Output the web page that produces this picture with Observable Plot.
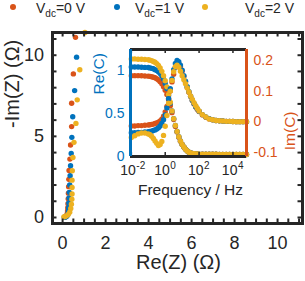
<!DOCTYPE html>
<html><head><meta charset="utf-8">
<script src="https://cdn.jsdelivr.net/npm/d3@7"></script>
<script src="https://cdn.jsdelivr.net/npm/@observablehq/plot@0.6"></script>
<style>
html,body{margin:0;padding:0;background:#fff;}
#wrap{position:relative;width:305px;height:281px;overflow:hidden;font-family:"Liberation Sans",Arial,Helvetica,sans-serif;}
#wrap svg{position:absolute;left:0;top:0;}
.ldot{position:absolute;width:6px;height:6px;border-radius:50%;}
.ltxt{position:absolute;font-size:14px;line-height:14px;color:#262626;white-space:nowrap;}
.ltxt sub{font-size:10px;vertical-align:-4px;line-height:0;}
</style></head>
<body><div id="wrap"></div>
<script>
const blue = "#0072BD", orange = "#D95319", yellow = "#EDB120", ink = "#262626";
const FONT = '"Liberation Sans", Arial, Helvetica, sans-serif';

// legend
const seriesLabels = ["0 V", "1 V", "2 V"];
const seriesColors = [orange, blue, yellow];

// Nyquist data: Re(Z) and -Im(Z) in ohm
const reZ0 = [0.60,0.50,0.42,0.42,0.37,0.34,0.30,0.29,0.28,0.27,0.26,0.25,0.24,0.23,0.22,0.20,0.17,0.13,0.10];
const imZ0 = [11.1,8.85,7.04,5.6,4.47,3.6,2.9,2.35,1.9,1.5,1.15,0.85,0.6,0.4,0.25,0.14,0.08,0.05,0.03];
const reZ1 = [0.65,0.56,0.47,0.43,0.40,0.37,0.35,0.33,0.31,0.30,0.29,0.28,0.27,0.25,0.21,0.16,0.12,0.08];
const imZ1 = [9.88,7.82,6.21,4.94,3.95,3.19,2.57,2.0,1.55,1.2,0.9,0.62,0.4,0.22,0.1,0.05,0.03,0.02];
const reZ2 = [1.04,0.80,0.68,0.62,0.53,0.48,0.45,0.44,0.44,0.44,0.43,0.41,0.38,0.33,0.26,0.18,0.11,0.06];
const imZ2 = [11.4,9.1,7.25,5.8,4.63,3.70,2.88,2.3,1.85,1.45,1.12,0.82,0.55,0.33,0.18,0.1,0.06,0.04];

// Inset: frequency (Hz), Re(C), Im(C)
const freq = [0.01,0.0158,0.0251,0.0398,0.0631,
  0.1,0.126,0.158,0.2,0.251,0.316,0.398,0.501,0.631,0.794,
  1,1.26,1.58,2,2.51,3.16,3.98,5.01,6.31,7.94,
  10,12.6,15.8,20,25.1,31.6,39.8,50.1,63.1,79.4,
  100,
  158,251,398,631,1000,1585,2512,3981,6310,10000,15849,25119,39811,63096];
const reC0 = [0.94,0.94,0.94,0.938,0.936,
  0.934,0.932,0.928,0.922,0.915,0.905,0.89,0.87,0.845,0.81,
  0.77,0.72,0.66,0.59,0.51,0.43,0.35,0.285,0.225,0.178,
  0.14,0.11,0.085,0.065,0.05,0.042,0.036,0.032,0.03,0.029,
  0.028,
  0.027,0.027,0.026,0.026,0.026,0.025,0.025,0.025,0.025,0.025,0.024,0.024,0.024,0.024];
const reC1 = [1.04,1.04,1.04,1.038,1.036,
  1.034,1.03,1.025,1.02,1.01,1.0,0.985,0.965,0.935,0.9,
  0.85,0.79,0.71,0.62,0.53,0.44,0.36,0.29,0.23,0.18,
  0.14,0.11,0.085,0.065,0.05,0.042,0.036,0.032,0.03,0.029,
  0.028,
  0.027,0.027,0.026,0.026,0.026,0.025,0.025,0.025,0.025,0.025,0.024,0.024,0.024,0.024];
const reC2 = [1.135,1.135,1.13,1.13,1.128,
  1.125,1.12,1.115,1.105,1.095,1.08,1.06,1.03,0.99,0.94,
  0.88,0.81,0.72,0.63,0.53,0.44,0.36,0.29,0.23,0.18,
  0.14,0.11,0.085,0.065,0.05,0.042,0.036,0.032,0.03,0.029,
  0.028,
  0.027,0.027,0.026,0.026,0.026,0.025,0.025,0.025,0.025,0.025,0.024,0.024,0.024,0.024];
const imC0 = [-0.014,-0.014,-0.013,-0.013,-0.012,
  -0.011,-0.01,-0.009,-0.008,-0.006,-0.004,-0.002,0.002,0.008,0.018,
  0.032,0.05,0.075,0.10,0.13,0.155,0.178,0.19,0.19,0.18,
  0.165,0.148,0.13,0.112,0.096,0.082,0.069,0.058,0.048,0.04,
  0.033,
  0.022,0.014,0.009,0.006,0.004,0.003,0.002,0.001,0.001,0.0005,0,0,0,0];
const imC1 = [-0.036,-0.036,-0.035,-0.035,-0.034,
  -0.033,-0.032,-0.031,-0.029,-0.027,-0.024,-0.02,-0.014,-0.006,0.006,
  0.022,0.045,0.075,0.108,0.14,0.17,0.19,0.2,0.196,0.185,
  0.168,0.15,0.132,0.114,0.098,0.083,0.07,0.059,0.049,0.041,
  0.034,
  0.023,0.015,0.01,0.006,0.004,0.003,0.002,0.001,0.001,0.0005,0,0,0,0];
const imC2 = [-0.052,-0.046,-0.04,-0.037,-0.037,
  -0.04,-0.043,-0.048,-0.055,-0.063,-0.071,-0.078,-0.075,-0.065,-0.045,
  -0.015,0.02,0.06,0.1,0.135,0.163,0.18,0.185,0.178,0.165,
  0.15,0.137,0.124,0.11,0.097,0.084,0.073,0.062,0.052,0.043,
  0.035,
  0.023,0.015,0.009,0.006,0.004,0.003,0.002,0.001,0.001,0.0005,0,0,0,0];

// ticks
const mainXTicks = [0,2,4,6,8,10];
const mainYTicks = [0,5,10];
const mainXMinor = [0,0.5,1,1.5,2,2.5,3,3.5,4,4.5,5,5.5,6,6.5,7,7.5,8,8.5,9,9.5,10,10.5,11];
const mainYMinor = [0,1,2,3,4,5,6,7,8,9,10,11];
const insetXTicks = [0.01,1,100,10000];
const insetXExp = ["-2","0","2","4"];
const insetReTicks = [0,0.5,1];
const insetImTicks = [-0.1,0,0.1,0.2];

const wrap = document.getElementById("wrap");

// ---------- main plot ----------
const M = {l:52, r:3, t:32, b:58};
const W = 305, H = 281;
const pH = H - M.t - M.b, pW = W - M.l - M.r;
const TL = 4.5;
const nyq = [[reZ0, imZ0], [reZ1, imZ1], [reZ2, imZ2]];
const main = Plot.plot({
  width: W, height: H,
  marginLeft: M.l, marginRight: M.r, marginTop: M.t, marginBottom: M.b,
  style: {fontFamily: FONT, background: "transparent", color: ink, overflow: "visible"},
  x: {domain: [-0.47, 11.16]},
  y: {domain: [-0.37, 11.4]},
  marks: [
    ...nyq.map(([rx, iy], i) => Plot.dot(iy, {x: rx, y: iy, r: 2.7, fill: seriesColors[i], stroke: null})),
    Plot.tickX(mainXMinor, {x: d => d, insetTop: pH - TL, stroke: ink, strokeWidth: 2}),
    Plot.tickX(mainXMinor, {x: d => d, insetBottom: pH - TL, stroke: ink, strokeWidth: 2}),
    Plot.tickY(mainYMinor, {y: d => d, insetRight: pW - TL, stroke: ink, strokeWidth: 2}),
    Plot.tickY(mainYMinor, {y: d => d, insetLeft: pW - TL, stroke: ink, strokeWidth: 2}),
    Plot.frame({stroke: ink, strokeWidth: 3}),
    Plot.axisX(mainXTicks, {tickSize: 0, tickPadding: 12.5, fontSize: 18, label: null, fill: ink}),
    Plot.axisY(mainYTicks, {tickSize: 0, tickPadding: 8.5, fontSize: 18, label: null, fill: ink}),
    Plot.text(["Re(Z) (Ω)"], {frameAnchor: "bottom", dx: 1, dy: 45.5, fontSize: 20, fill: ink}),
    Plot.text(["-Im(Z) (Ω)"], {frameAnchor: "left", dx: -39.5, dy: 0, rotate: -90, fontSize: 20, fill: ink})
  ]
});
wrap.appendChild(main);

// ---------- inset ----------
const I = {l:130, r:59, t:49, b:125};
const ipH = H - I.t - I.b, ipW = W - I.l - I.r;
const xDom = [Math.pow(10, -2.05), Math.pow(10, 4.8)];
const reDom = [0, 1.244];
const imDom = [-0.114, 0.236];
const reSets = [reC0, reC1, reC2];
const imSets = [imC0, imC1, imC2];

const insetRe = Plot.plot({
  width: W, height: H,
  marginLeft: I.l, marginRight: I.r, marginTop: I.t, marginBottom: I.b,
  style: {fontFamily: FONT, background: "transparent", color: ink, overflow: "visible"},
  x: {type: "log", domain: xDom, axis: null},
  y: {domain: reDom},
  marks: [
    Plot.frame({fill: "white", stroke: "none"}),
    ...reSets.map((v, i) => Plot.dot(v, {x: freq, y: v, r: 2.7, fill: seriesColors[i], stroke: null})),
    Plot.axisY(insetReTicks, {tickSize: 0, tickPadding: 6, fontSize: 14, fill: blue, label: null, tickFormat: d => String(d)}),
    Plot.text(insetXTicks, {x: d => d, frameAnchor: "bottom", text: () => "10", textAnchor: "end", dx: 4.5, dy: 18.5, fontSize: 14, fill: ink}),
    Plot.text(insetXTicks, {x: d => d, frameAnchor: "bottom", text: insetXExp, textAnchor: "start", dx: 5, dy: 12.5, fontSize: 10, fill: ink}),
    Plot.text(["Frequency / Hz"], {frameAnchor: "bottom", dx: 2, dy: 38, fontSize: 15.5, fill: ink}),
    Plot.text(["Re(C)"], {frameAnchor: "left", dx: -31, dy: -8.5, rotate: -90, fontSize: 15.5, fill: blue})
  ]
});
wrap.appendChild(insetRe);

const insetIm = Plot.plot({
  width: W, height: H,
  marginLeft: I.l, marginRight: I.r, marginTop: I.t, marginBottom: I.b,
  style: {fontFamily: FONT, background: "transparent", color: ink, overflow: "visible"},
  x: {type: "log", domain: xDom, axis: null},
  y: {domain: imDom},
  marks: [
    ...imSets.map((v, i) => Plot.dot(v, {x: freq, y: v, r: 2.7, fill: seriesColors[i], stroke: null})),
    Plot.tickX(insetXTicks, {x: d => d, insetTop: ipH - 4, stroke: ink, strokeWidth: 1.5}),
    Plot.tickX(insetXTicks, {x: d => d, insetBottom: ipH - 4, stroke: ink, strokeWidth: 1.5}),
    Plot.ruleY([imDom[1]], {stroke: ink, strokeWidth: 3}),
    Plot.ruleY([imDom[0]], {stroke: ink, strokeWidth: 3}),
    Plot.ruleX([xDom[0]], {stroke: blue, strokeWidth: 3}),
    Plot.ruleX([xDom[1]], {stroke: orange, strokeWidth: 3}),
    Plot.axisY(insetImTicks, {anchor: "right", tickSize: 0, tickPadding: 7, fontSize: 14, fill: orange, label: null, tickFormat: d => String(d)}),
    Plot.text(["Im(C)"], {frameAnchor: "right", dx: 44, dy: 8.5, rotate: -90, fontSize: 15.5, fill: orange})
  ]
});
wrap.appendChild(insetIm);

// ---------- legend ----------
const legDotX = [12.7, 116.7, 205];
const legTxtX = [36, 135, 245];
seriesLabels.forEach((lab, i) => {
  const d = document.createElement("div");
  d.className = "ldot";
  d.style.left = (legDotX[i] - 3) + "px";
  d.style.top = (7.3 - 3) + "px";
  d.style.background = seriesColors[i];
  wrap.appendChild(d);
  const t = document.createElement("div");
  t.className = "ltxt";
  t.style.left = legTxtX[i] + "px";
  t.style.top = "0.5px";
  t.append("V");
  const s = document.createElement("sub");
  s.textContent = "dc";
  t.append(s);
  t.append("=" + lab);
  wrap.appendChild(t);
});
</script>
</body></html>
